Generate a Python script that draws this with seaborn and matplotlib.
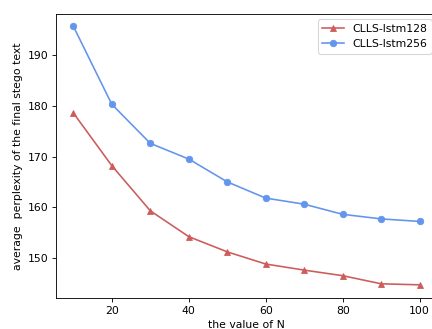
import numpy as np
import matplotlib
matplotlib.use("Agg")
import matplotlib.pyplot as plt
import pandas as pd
import seaborn as sns

n_values = [10, 20, 30, 40, 50, 60, 70, 80, 90, 100]
lstm128 = [178.6, 168.2, 159.3, 154.2, 151.2, 148.8, 147.6, 146.5, 144.9, 144.7]
lstm256 = [195.7, 180.3, 172.6, 169.5, 165.0, 161.8, 160.6, 158.6, 157.7, 157.2]

df = pd.DataFrame({"N": n_values, "CLLS-lstm128": lstm128, "CLLS-lstm256": lstm256})

DPI = 78
fig = plt.figure(figsize=(432 / DPI, 329 / DPI), dpi=DPI)
ax = fig.add_axes([0.1296, 0.0942, 0.882, 0.8632])

sns.lineplot(data=df, x="N", y="CLLS-lstm128", marker="^", color="indianred",
             markeredgecolor="indianred", markersize=6, label="CLLS-lstm128", ax=ax)
sns.lineplot(data=df, x="N", y="CLLS-lstm256", marker="o", color="cornflowerblue",
             markeredgecolor="cornflowerblue", markersize=6, label="CLLS-lstm256", ax=ax)

ax.set_xlabel("the value of N")
ax.set_ylabel("average  perplexity of the final stego text")
ax.set_ylim(142.1, 198.1)
ax.set_yticks([150, 160, 170, 180, 190])
ax.set_xticks([20, 40, 60, 80, 100])
ax.legend(loc="upper right")

fig.savefig("out.png", dpi=DPI)
